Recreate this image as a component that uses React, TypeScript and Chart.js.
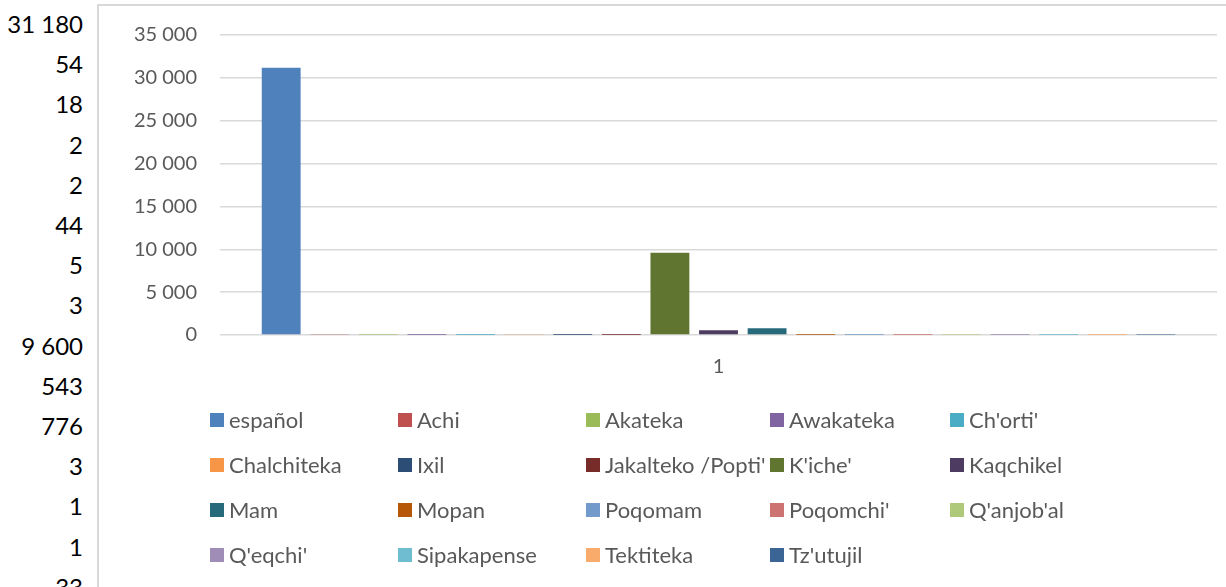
import React, { useEffect, useRef } from "react";
import { Chart, registerables } from "chart.js";

Chart.register(...registerables);

const categories = ["1"];
const seriesNames = [
  "español", "Achi", "Akateka", "Awakateka", "Ch'orti'",
  "Chalchiteka", "Ixil", "Jakalteko /Popti'", "K'iche'", "Kaqchikel",
  "Mam", "Mopan", "Poqomam", "Poqomchi'", "Q'anjob'al",
  "Q'eqchi'", "Sipakapense", "Tektiteka", "Tz'utujil",
];
const seriesValues = [
  31180, 54, 18, 2, 2,
  44, 5, 3, 9600, 543,
  776, 3, 1, 1, 33,
  10, 1, 1, 15,
];
const seriesColors = [
  "#4F81BD", "#C0504D", "#9BBB59", "#8064A2", "#4BACC6",
  "#F79646", "#2C4D75", "#772C2A", "#5F7530", "#4D3B62",
  "#276A7C", "#B65708", "#729ACA", "#CD7371", "#AFC97A",
  "#9F8CB7", "#6FBDD1", "#F9AB6B", "#3A6595",
];
const yTicks = [0, 5000, 10000, 15000, 20000, 25000, 30000, 35000];

const FONT = "Lato, 'Open Sans', sans-serif";
const fmt = (v: number) => String(v).replace(/\B(?=(\d{3})+(?!\d))/g, " ");

const gridLegend = {
  id: "gridLegend",
  afterDraw(chart: any, _args: any, opts: any) {
    const ctx = chart.ctx;
    const cols: number[] = opts.cols;
    const rows: number[] = opts.rows;
    ctx.save();
    ctx.font = `${opts.fontSize}px ${FONT}`;
    ctx.textBaseline = "middle";
    ctx.textAlign = "left";
    chart.data.datasets.forEach((ds: any, i: number) => {
      const c = i % cols.length;
      const r = Math.floor(i / cols.length);
      const x = cols[c];
      const y = rows[r];
      ctx.fillStyle = ds.backgroundColor;
      ctx.fillRect(x, y - opts.box / 2, opts.box, opts.box);
      ctx.fillStyle = "#595959";
      ctx.fillText(ds.label, x + opts.box + 5, y + 1);
    });
    ctx.restore();
  },
};

export default function App() {
  const ref = useRef<HTMLCanvasElement | null>(null);

  useEffect(() => {
    if (!ref.current) return;
    const chart = new Chart(ref.current, {
      type: "bar",
      data: {
        labels: categories,
        datasets: seriesNames.map((name, i) => ({
          label: name,
          data: [seriesValues[i]],
          backgroundColor: seriesColors[i],
          borderWidth: 0,
          categoryPercentage: 0.926,
          barPercentage: 0.8,
        })),
      },
      plugins: [gridLegend],
      options: {
        animation: false,
        responsive: true,
        maintainAspectRatio: false,
        layout: { padding: { top: 22, right: 9, left: 0, bottom: 0 } },
        plugins: {
          legend: { display: false },
          tooltip: { enabled: false },
          gridLegend: {
            cols: [111, 299, 487, 671, 851],
            rows: [420, 465, 510, 555],
            box: 14,
            fontSize: 22,
          },
        } as any,
        scales: {
          x: {
            grid: { display: false, drawTicks: false },
            border: { display: false },
            ticks: {
              color: "#595959",
              font: { family: FONT, size: 20 },
              padding: 20,
            },
            afterFit: (s: any) => {
              s.height = 252;
            },
          },
          y: {
            min: 0,
            max: 35000,
            afterBuildTicks: (s: any) => {
              s.ticks = yTicks.map((v) => ({ value: v }));
            },
            grid: { color: "#d9d9d9", lineWidth: 1.5, drawTicks: false },
            border: { display: false },
            ticks: {
              color: "#595959",
              font: { family: FONT, size: 20 },
              padding: 23,
              callback: (v: any) => fmt(Number(v)),
            },
            afterFit: (s: any) => {
              s.width = 121;
            },
          },
        },
      },
    });
    return () => chart.destroy();
  }, []);

  return (
    <div
      style={{
        position: "fixed",
        left: 0,
        top: 0,
        width: 1226,
        height: 587,
        overflow: "hidden",
        background: "#fff",
      }}
    >
      <div
        style={{
          position: "absolute",
          left: 0,
          top: 4,
          width: 83,
          textAlign: "right",
          fontFamily: FONT,
          fontSize: 24,
          lineHeight: "40.2px",
          color: "#000",
        }}
      >
        {seriesValues.map((v, i) => (
          <div key={i}>{fmt(v)}</div>
        ))}
      </div>
      <div
        style={{
          position: "absolute",
          left: 97,
          top: 4,
          width: 1200,
          height: 700,
          borderLeft: "2px solid #d9d9d9",
          borderTop: "2px solid #d9d9d9",
        }}
      />
      <div
        style={{
          position: "absolute",
          left: 99,
          top: 0,
          width: 1127,
          height: 587,
        }}
      >
        <canvas ref={ref} />
      </div>
    </div>
  );
}
